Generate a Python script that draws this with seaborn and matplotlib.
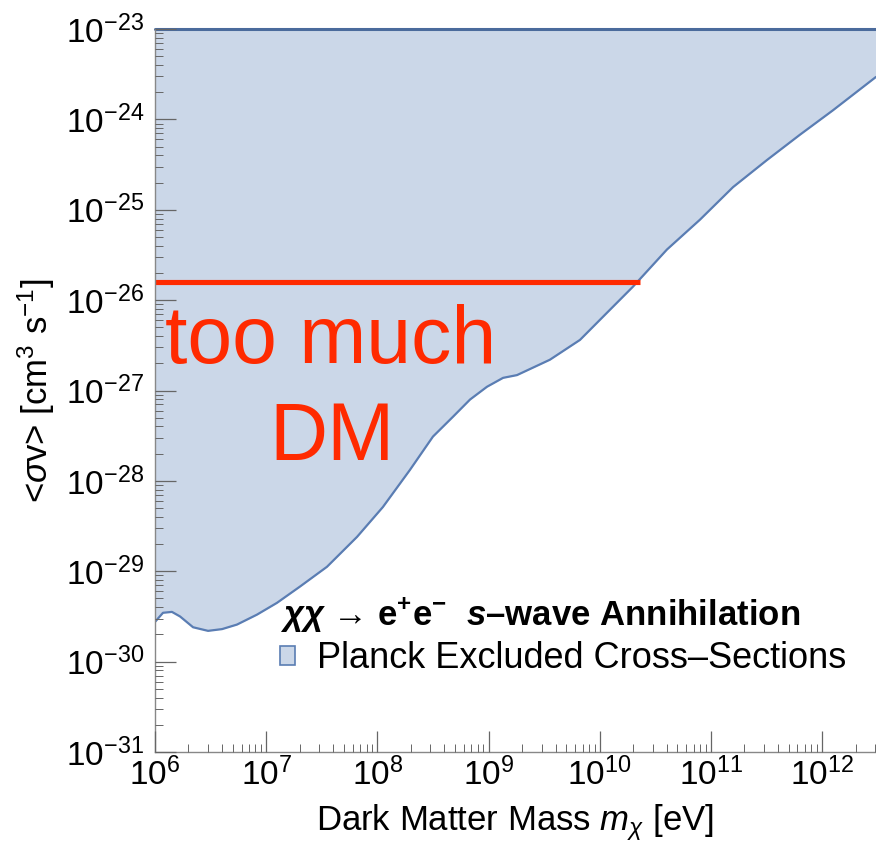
import numpy as np
import matplotlib
matplotlib.use("Agg")
import matplotlib.pyplot as plt
import matplotlib.ticker as mticker
from matplotlib.patches import Patch
import seaborn as sns

# boundary of the Planck excluded region
mass_ev = [1.00e6, 1.18e6, 1.42e6, 1.68e6, 2.20e6, 3.00e6, 4.01e6, 5.46e6, 8.26e6,
           1.25e7, 2.01e7, 3.52e7, 6.56e7, 1.12e8, 1.96e8, 3.16e8, 4.79e8, 6.81e8,
           9.68e8, 1.35e9, 1.80e9, 3.56e9, 6.64e9, 1.16e10, 1.99e10, 4.02e10,
           7.96e10, 1.58e11, 3.19e11, 6.31e11, 1.25e12, 3.05e12]
sigv_limit = [2.75e-30, 3.47e-30, 3.55e-30, 3.16e-30, 2.40e-30, 2.19e-30, 2.29e-30,
              2.57e-30, 3.31e-30, 4.47e-30, 6.76e-30, 1.12e-29, 2.40e-29, 5.13e-29,
              1.32e-28, 3.09e-28, 5.13e-28, 7.94e-28, 1.10e-27, 1.38e-27, 1.48e-27,
              2.19e-27, 3.63e-27, 7.24e-27, 1.41e-26, 3.63e-26, 7.76e-26, 1.78e-25,
              3.55e-25, 6.76e-25, 1.26e-24, 2.95e-24]

# thermal relic cross-section line
relic_mass = [1.0e6, 2.30e10]
relic_sigv = [1.58e-26, 1.58e-26]

x_range = (1e6, 3.05e12)
y_range = (1e-31, 1e-23)
x_ticks = [1e6, 1e7, 1e8, 1e9, 1e10, 1e11, 1e12]
y_ticks = [1e-31, 1e-30, 1e-29, 1e-28, 1e-27, 1e-26, 1e-25, 1e-24, 1e-23]

fill_col = "#cbd7e8"
edge_col = "#5a7db3"
top_col = "#4b6b9c"
red = "#ff2a00"

sns.set_theme(style="ticks")
plt.rcParams["font.family"] = ["Liberation Sans", "DejaVu Sans"]
plt.rcParams["mathtext.fontset"] = "custom"
plt.rcParams["mathtext.rm"] = "Liberation Sans"
plt.rcParams["mathtext.it"] = "Liberation Sans:italic"
plt.rcParams["mathtext.bf"] = "Liberation Sans:bold"
plt.rcParams["mathtext.bfit"] = "Liberation Sans:bold:italic"
plt.rcParams["text.color"] = "black"
plt.rcParams["axes.labelcolor"] = "black"

fig = plt.figure(figsize=(8.76, 8.52), dpi=100)
ax = fig.add_axes([155 / 876, 100 / 852, 721 / 876, 723 / 852])
ax.set_axisbelow(False)

ax.fill_between(mass_ev, sigv_limit, y_range[1], color=fill_col, lw=0)
sns.lineplot(x=mass_ev, y=sigv_limit, ax=ax, color=edge_col, lw=1.6)
ax.plot(x_range, [y_range[1]] * 2, color=top_col, lw=2.2, clip_on=False)
ax.plot(relic_mass, relic_sigv, color=red, lw=3.7, solid_capstyle="butt")

ax.set_xscale("log")
ax.set_yscale("log")
ax.set_xlim(*x_range)
ax.set_ylim(*y_range)

ax.xaxis.set_major_locator(mticker.FixedLocator(x_ticks))
ax.yaxis.set_major_locator(mticker.FixedLocator(y_ticks))
ax.xaxis.set_major_formatter(mticker.LogFormatterSciNotation())
ax.yaxis.set_major_formatter(mticker.LogFormatterSciNotation())
ax.xaxis.set_minor_locator(mticker.LogLocator(base=10, subs=np.arange(2, 10), numticks=20))
ax.yaxis.set_minor_locator(mticker.LogLocator(base=10, subs=np.arange(2, 10), numticks=20))
ax.xaxis.set_minor_formatter(mticker.NullFormatter())
ax.yaxis.set_minor_formatter(mticker.NullFormatter())

ax.tick_params(which="major", direction="in", length=15, width=0.9, color="#666666",
               labelsize=24, pad=8, labelcolor="black")
ax.tick_params(which="minor", direction="in", length=6, width=0.7, color="#666666")
ax.tick_params(axis="x", which="major", pad=4)

for s in ["top", "right"]:
    ax.spines[s].set_visible(False)
for s in ["left", "bottom"]:
    ax.spines[s].set_color("#888888")
    ax.spines[s].set_linewidth(1.0)

ax.set_xlabel(r"Dark Matter Mass $m_\chi$ [eV]", fontsize=25, labelpad=7)
ax.set_ylabel(r"<$\sigma$v> [cm$^3$ s$^{-1}$]", fontsize=25, labelpad=6)

ax.text(0.244, 0.538, "too much", transform=ax.transAxes, ha="center", va="baseline",
        fontsize=58, color=red)
ax.text(0.246, 0.404, "DM", transform=ax.transAxes, ha="center", va="baseline",
        fontsize=58, color=red)

title = r"$\mathbfit{\chi\chi}$ → $\mathbf{e^{+}e^{-}}$  $\mathbfit{s}$" + "\u2013wave Annihilation"
handles = [Patch(facecolor=fill_col, edgecolor=edge_col, lw=1.2,
                 label="Planck Excluded Cross\u2013Sections")]
leg = ax.legend(handles=handles, loc="upper left", bbox_to_anchor=(0.173, 0.217),
                frameon=False, fontsize=26, handlelength=0.42, handleheight=0.42,
                handletextpad=0.6, borderpad=0, borderaxespad=0, labelspacing=0.2,
                title=title, alignment="left",
                title_fontproperties={"weight": "bold", "size": 25})

fig.savefig("out.png", dpi=100)
